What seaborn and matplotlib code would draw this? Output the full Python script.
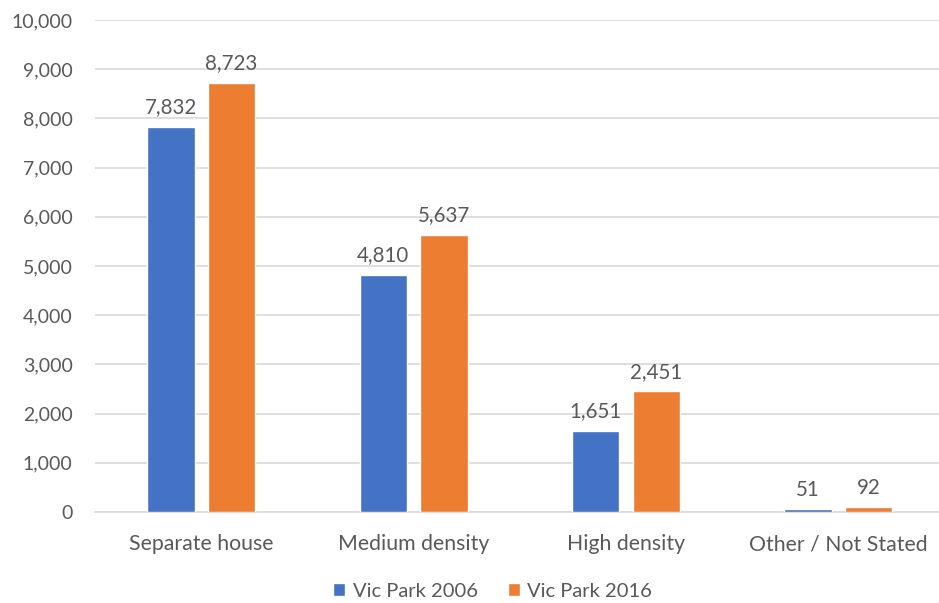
import matplotlib
matplotlib.use("Agg")
import matplotlib.pyplot as plt
import seaborn as sns
import pandas as pd
from matplotlib.ticker import FuncFormatter, MultipleLocator

categories = ["Separate house", "Medium density", "High density", "Other / Not Stated"]
series_names = ["Vic Park 2006", "Vic Park 2016"]
values_2006 = [7832, 4810, 1651, 51]
values_2016 = [8723, 5637, 2451, 92]
colors = ["#4472C4", "#ED7D31"]

df = pd.DataFrame({
    "category": categories * 2,
    "series": [series_names[0]] * len(categories) + [series_names[1]] * len(categories),
    "value": values_2006 + values_2016,
})

sns.set_theme(style="white")
plt.rcParams["font.family"] = ["Lato", "DejaVu Sans"]
text_color = "#595959"
grid_color = "#D9D9D9"

fig = plt.figure(figsize=(9.39, 6.03), dpi=100)
ax = fig.add_axes([0.101, 0.151, 0.905, 0.816])

sns.barplot(data=df, x="category", y="value", hue="series", order=categories,
            hue_order=series_names, palette=colors, width=0.57, gap=0.216,
            saturation=1, ax=ax, zorder=3)

for container in ax.containers:
    ax.bar_label(container, labels=[f"{v:,.0f}" for v in container.datavalues],
                 padding=7, fontsize=14.8, color=text_color)

ax.set_ylim(0, 10000)
ax.set_xlim(-0.5, len(categories) - 0.5)
ax.yaxis.set_major_locator(MultipleLocator(1000))
ax.yaxis.set_major_formatter(FuncFormatter(lambda v, p: f"{v:,.0f}"))
ax.grid(axis="y", color=grid_color, linewidth=1.2, zorder=0)
ax.set_xlabel("")
ax.set_ylabel("")

for side in ["top", "right", "left"]:
    ax.spines[side].set_visible(False)
ax.spines["bottom"].set_color(grid_color)
ax.spines["bottom"].set_linewidth(1.2)

ax.tick_params(axis="y", length=0, labelsize=14, labelcolor=text_color, pad=16)
ax.tick_params(axis="x", length=0, labelsize=15.3, labelcolor=text_color, pad=16)

handles, labels = ax.get_legend_handles_labels()
ax.legend(handles, labels, loc="center", bbox_to_anchor=(0.468, -0.161),
          ncol=2, frameon=False, fontsize=14.5, labelcolor=text_color,
          handlelength=0.6, handleheight=0.6, handletextpad=0.35, columnspacing=1.5)

fig.savefig("out.png", dpi=100, facecolor="white")
